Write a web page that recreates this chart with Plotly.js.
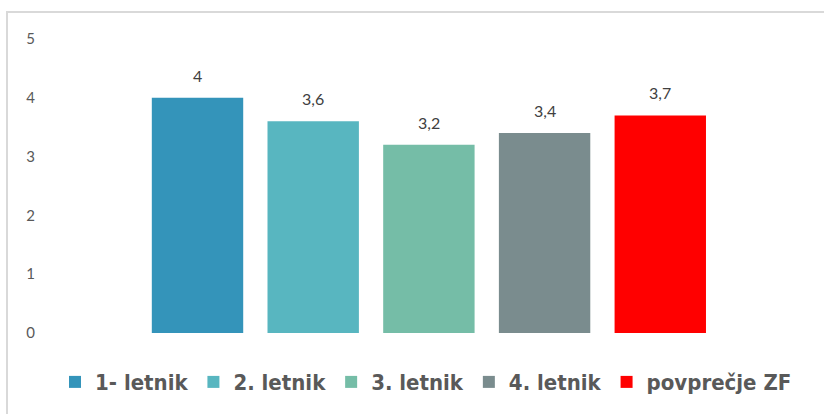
<!DOCTYPE html>
<html>
<head>
<meta charset="utf-8">
<script src="https://cdn.plot.ly/plotly-3.0.1.min.js"></script>
<style>
html,body{margin:0;padding:0;background:#fff;}
#wrap{position:relative;width:824px;height:414px;overflow:hidden;}
#chart{position:absolute;left:0;top:0;width:824px;height:414px;}
.ln{position:absolute;background:#d9d9d9;}
</style>
</head>
<body>
<div id="wrap">
<div id="chart"></div>
<div class="ln" style="left:7px;top:11px;width:817px;height:2px;"></div>
<div class="ln" style="left:6px;top:11px;width:2px;height:403px;"></div>
</div>
<script>
const categories = ["1- letnik", "2. letnik", "3. letnik", "4. letnik", "povprečje ZF"];
const values = [4, 3.6, 3.2, 3.4, 3.7];
const colors = ["#3494BA", "#58B6C0", "#75BDA7", "#7A8C8E", "#FF0000"];
const yTicks = [0, 1, 2, 3, 4, 5];

const fmt = v => String(v).replace('.', ',');

const traces = categories.map((c, i) => ({
  type: 'bar',
  name: c,
  x: [c],
  y: [values[i]],
  marker: {color: colors[i], line: {width: 0}},
  hoverinfo: 'none'
}));

const annotations = categories.map((c, i) => ({
  x: c, y: values[i], xref: 'x', yref: 'y',
  text: fmt(values[i]), showarrow: false,
  yanchor: 'bottom', yshift: 11,
  font: {family: 'Lato, "DejaVu Sans", sans-serif', size: 16, color: '#404040'}
}));

const layout = {
  width: 824, height: 414,
  margin: {l: 36, r: 8, t: 39, b: 81},
  paper_bgcolor: 'rgba(0,0,0,0)',
  plot_bgcolor: 'rgba(0,0,0,0)',
  barmode: 'overlay',
  bargap: 0.21,
  showlegend: true,
  xaxis: {
    type: 'category',
    range: [-1.396, 5.346],
    showticklabels: false, showgrid: false, zeroline: false, showline: false, ticks: ''
  },
  yaxis: {
    range: [0, 5],
    tickvals: yTicks,
    ticktext: yTicks.map(String),
    showgrid: false, zeroline: false, showline: false, ticks: '',
    tickfont: {family: 'Lato, "DejaVu Sans", sans-serif', size: 15, color: '#595959'}
  },
  legend: {
    orientation: 'h', x: 0.5, xanchor: 'center', y: -0.167, yanchor: 'middle',
    font: {family: '"Liberation Sans Narrow", "DejaVu Sans Condensed", sans-serif', size: 22, color: '#595959', weight: 'bold'},
    itemwidth: 30, traceorder: 'normal'
  },
  annotations: annotations
};

Plotly.newPlot('chart', traces, layout, {displayModeBar: false, staticPlot: true});
</script>
</body>
</html>
